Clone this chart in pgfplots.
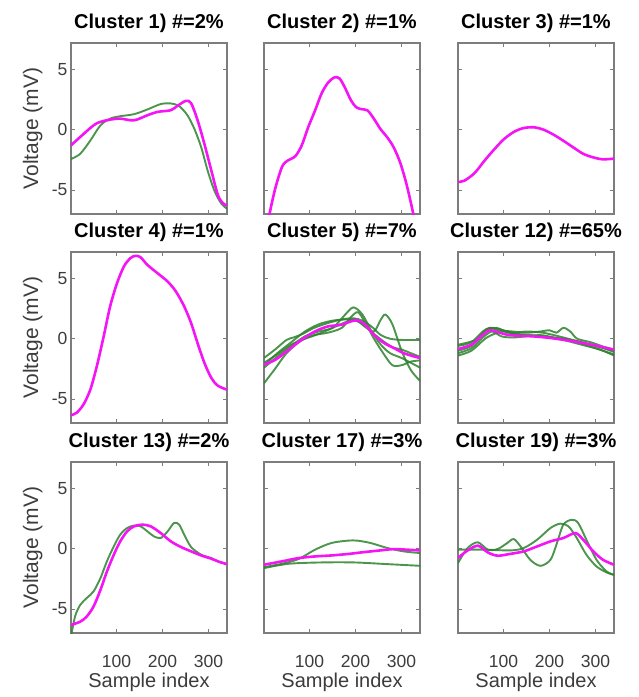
\documentclass[border=0pt]{standalone}
\usepackage{fontspec}
\setmainfont{Liberation Sans}
\usepackage{pgfplots}
\pgfplotsset{compat=1.18}
\definecolor{axgray}{RGB}{125,125,125}
\definecolor{labgray}{RGB}{60,60,60}
\definecolor{mag}{RGB}{245,20,245}
\definecolor{grn}{RGB}{45,130,45}
\pgfplotsset{
  panel/.style={scale only axis, width=156pt, height=171pt, anchor=north west,
    xmin=1, xmax=340, ymin=-7, ymax=7.2,
    xtick={100,200,300}, ytick={-5,0,5}, xticklabels={}, yticklabels={},
    tick pos=both, tick align=inside, major tick length=4pt,
    axis line style={draw=axgray, line width=1.3pt},
    every tick/.style={draw=axgray, line width=0.8pt},
    title style={font=\bfseries\fontsize{20}{22}\selectfont, text=black, at={(axis description cs:0.5,1)}, anchor=base, yshift=9pt},
    ticklabel style={font=\fontsize{17.5}{19}\selectfont, text=labgray},
    xticklabel style={anchor=base, yshift=-34pt},
    every axis y label/.style={at={(axis description cs:-0.245,0.5)}, rotate=90, anchor=center, font=\fontsize{21}{23}\selectfont, text=labgray},
    every axis x label/.style={at={(axis description cs:0.5,0)}, anchor=base, yshift=-54pt, font=\fontsize{20}{22}\selectfont, text=labgray},
  },
  leftcol/.style={yticklabels={-5,0,5}, ylabel={Voltage (mV)}},
  botrow/.style={xticklabels={100,200,300}, xlabel={Sample index}},
  mg/.style={draw=mag, line width=2.6pt, smooth, no marks},
  gn/.style={draw=grn, line width=1.9pt, draw opacity=0.85, smooth, no marks},
}
\begin{document}
\begin{tikzpicture}
\path[use as bounding box] (0,0) rectangle (639pt,-697pt);
% ---------- Row 1 ----------
\begin{axis}[panel, leftcol, at={(71pt,-43pt)}, title={Cluster 1) \#=2\%}]
\addplot[gn] coordinates {(1,-2.44) (21,-2.0) (43,-0.9) (65,0.36) (86,0.92) (108,1.12) (138,1.29) (167,1.68) (196,2.13) (218,2.18) (236,1.96) (254,1.2) (269,0.08) (284,-1.46) (298,-3.4) (313,-5.1) (328,-6.16) (340,-6.55)};
\addplot[mg] coordinates {(1,-1.3) (50,0.36) (72,0.73) (86,0.84) (108,0.92) (138,0.78) (167,1.2) (189,1.48) (218,1.62) (233,2.0) (251,2.4) (262,2.2) (276,0.8) (291,-1.2) (306,-3.4) (320,-5.4) (331,-6.1) (340,-6.3)};
\end{axis}
\begin{axis}[panel, at={(264pt,-43pt)}, title={Cluster 2) \#=1\%}]
\addplot[mg] coordinates {(7,-8.6) (13,-7.0) (26,-4.8) (40,-3.1) (51,-2.6) (69,-2.2) (83,-1.3) (97,0.2) (112,1.6) (126,3.0) (140,3.9) (154,4.34) (165,4.26) (176,3.56) (190,2.44) (201,1.88) (212,1.71) (226,1.6) (240,0.9) (254,0.06) (269,-0.64) (283,-1.48) (297,-2.74) (311,-4.57) (326,-7.1) (331,-8.4)};
\end{axis}
\begin{axis}[panel, at={(458pt,-43pt)}, title={Cluster 3) \#=1\%}]
\addplot[mg] coordinates {(1,-4.34) (15,-4.23) (37,-3.6) (58,-2.6) (80,-1.62) (101,-0.78) (123,-0.17) (144,0.14) (166,0.2) (187,0.0) (209,-0.42) (230,-0.92) (252,-1.48) (273,-2.0) (295,-2.3) (316,-2.46) (340,-2.4)};
\end{axis}
% ---------- Row 2 ----------
\begin{axis}[panel, leftcol, at={(71pt,-252pt)}, title={Cluster 4) \#=1\%}]
\addplot[mg] coordinates {(1,-6.35) (13,-6.16) (28,-5.47) (43,-4.23) (57,-2.3) (72,0.19) (86,2.68) (101,4.61) (116,6.0) (130,6.69) (141,6.88) (152,6.77) (167,6.13) (189,5.44) (211,4.75) (229,3.92) (247,2.68) (262,1.3) (276,-0.36) (291,-2.02) (306,-3.26) (320,-3.9) (340,-4.23)};
\end{axis}
\begin{axis}[panel, at={(264pt,-252pt)}, title={Cluster 5) \#=7\%}]
\addplot[gn] coordinates {(1,-1.6) (25,-0.9) (50,-0.1) (65,0.1) (85,0.4) (110,0.9) (140,1.3) (170,1.6) (195,1.7) (215,1.5) (235,1.0) (255,0.3) (275,0.0) (300,-0.1) (340,-0.1)};
\addplot[gn] coordinates {(1,-2.4) (30,-1.5) (60,-0.6) (90,0.2) (120,0.6) (150,0.9) (175,1.9) (195,2.6) (215,2.0) (235,0.6) (255,-0.5) (275,-1.2) (300,-1.6) (320,-2.0) (340,-2.4)};
\addplot[gn] coordinates {(1,-2.0) (30,-1.3) (60,-0.5) (90,0.0) (120,0.4) (150,0.9) (180,1.4) (200,1.6) (220,1.0) (240,0.6) (255,1.6) (265,2.0) (280,1.2) (300,-1.0) (320,-2.6) (340,-3.5)};
\addplot[gn] coordinates {(1,-3.7) (25,-2.5) (50,-1.2) (80,-0.2) (110,0.3) (140,0.5) (170,0.9) (190,1.8) (205,2.2) (220,1.4) (240,0.0) (260,-1.2) (280,-2.2) (300,-2.2) (320,-1.9) (340,-1.8)};
\addplot[gn] coordinates {(1,-2.2) (30,-1.2) (60,-0.3) (90,0.6) (120,1.2) (150,1.5) (180,1.6) (200,1.5) (220,1.1) (240,0.4) (260,-0.2) (280,-0.7) (300,-0.9) (320,-1.2) (340,-1.5)};
\addplot[mg] coordinates {(1,-2.15) (26,-1.74) (55,-0.91) (83,-0.08) (112,0.61) (140,1.02) (169,1.16) (190,1.44) (204,1.52) (219,1.24) (240,0.33) (262,-0.36) (283,-0.77) (304,-1.19) (326,-1.46) (340,-1.6)};
\end{axis}
\begin{axis}[panel, at={(458pt,-252pt)}, title={Cluster 12) \#=65\%}]
\addplot[gn] coordinates {(1,-0.6) (30,-0.3) (55,0.6) (70,0.9) (90,0.7) (120,0.6) (150,0.5) (180,0.6) (200,0.7) (215,0.5) (230,0.9) (245,0.6) (260,0.0) (290,-0.3) (320,-0.7) (340,-0.9)};
\addplot[gn] coordinates {(1,-1.2) (30,-0.8) (55,0.1) (75,0.6) (95,0.2) (120,0.1) (150,0.2) (180,0.3) (210,0.1) (240,-0.1) (270,-0.4) (300,-0.8) (340,-1.3)};
\addplot[gn] coordinates {(1,-1.0) (30,-0.6) (55,0.5) (70,0.9) (90,0.8) (120,0.5) (150,0.6) (185,0.5) (220,0.2) (250,-0.1) (280,-0.4) (310,-0.7) (340,-1.1)};
\addplot[gn] coordinates {(1,-0.5) (40,-0.1) (65,0.7) (85,0.9) (110,0.5) (140,0.3) (170,0.2) (200,0.1) (230,0.0) (260,-0.2) (290,-0.5) (320,-0.8) (340,-1.0)};
\addplot[gn] coordinates {(1,-1.4) (30,-1.0) (60,0.0) (80,0.4) (100,0.6) (130,0.4) (160,0.3) (190,0.2) (220,0.0) (250,-0.3) (280,-0.6) (310,-0.9) (340,-1.4)};
\addplot[mg] coordinates {(1,-0.86) (30,-0.5) (51,0.19) (69,0.69) (87,0.55) (108,0.33) (130,0.25) (166,0.19) (202,0.06) (238,-0.14) (273,-0.36) (309,-0.64) (340,-0.91)};
\end{axis}
% ---------- Row 3 ----------
\begin{axis}[panel, leftcol, botrow, at={(71pt,-462pt)}, title={Cluster 13) \#=2\%}]
\addplot[gn] coordinates {(1,-7.3) (10,-5.6) (21,-4.67) (35,-4.1) (50,-3.55) (65,-2.44) (79,-1.05) (94,0.19) (108,1.17) (123,1.72) (138,1.92) (152,1.86) (167,1.44) (181,1.03) (196,0.89) (211,1.44) (225,2.14) (236,2.0) (247,1.17) (262,0.14) (284,-0.5) (306,-0.78) (320,-1.05) (340,-1.28)};
\addplot[mg] coordinates {(1,-6.33) (21,-6.06) (35,-5.64) (50,-4.8) (65,-3.42) (79,-1.9) (94,-0.5) (108,0.61) (123,1.44) (138,1.86) (156,2.0) (174,1.86) (196,1.3) (218,0.61) (240,0.14) (262,-0.22) (284,-0.56) (306,-0.83) (324,-1.1) (340,-1.28)};
\end{axis}
\begin{axis}[panel, botrow, at={(264pt,-462pt)}, title={Cluster 17) \#=3\%}]
\addplot[gn] coordinates {(1,-1.53) (40,-1.25) (76,-0.86) (112,-0.08) (147,0.47) (183,0.67) (204,0.67) (233,0.47) (269,0.06) (304,-0.22) (340,-0.36)};
\addplot[gn] coordinates {(1,-1.61) (55,-1.25) (126,-1.14) (197,-1.14) (269,-1.28) (340,-1.42)};
\addplot[mg] coordinates {(1,-1.33) (40,-1.05) (76,-0.78) (112,-0.64) (147,-0.56) (183,-0.44) (219,-0.28) (254,-0.14) (283,-0.03) (311,-0.08) (340,-0.14)};
\end{axis}
\begin{axis}[panel, botrow, at={(458pt,-462pt)}, title={Cluster 19) \#=3\%}]
\addplot[gn] coordinates {(1,-1.19) (22,0.06) (44,0.53) (66,-0.08) (87,-0.03) (108,0.47) (122,0.8) (137,0.19) (158,-0.92) (180,-1.42) (202,-0.92) (216,0.47) (230,2.0) (248,2.4) (262,2.14) (280,0.75) (302,-0.92) (324,-1.89) (340,-2.17)};
\addplot[gn] coordinates {(1,-0.08) (58,-0.08) (116,-0.14) (144,0.06) (173,0.75) (202,1.72) (223,2.08) (241,1.86) (259,0.89) (280,-0.5) (302,-1.47) (324,-1.97) (340,-2.17)};
\addplot[mg] coordinates {(1,-0.78) (19,-0.22) (44,0.25) (66,-0.31) (87,-0.58) (116,-0.42) (144,-0.22) (173,0.19) (202,0.61) (230,0.89) (256,1.3) (273,0.75) (295,-0.22) (316,-0.92) (340,-1.33)};
\end{axis}
\end{tikzpicture}
\end{document}
